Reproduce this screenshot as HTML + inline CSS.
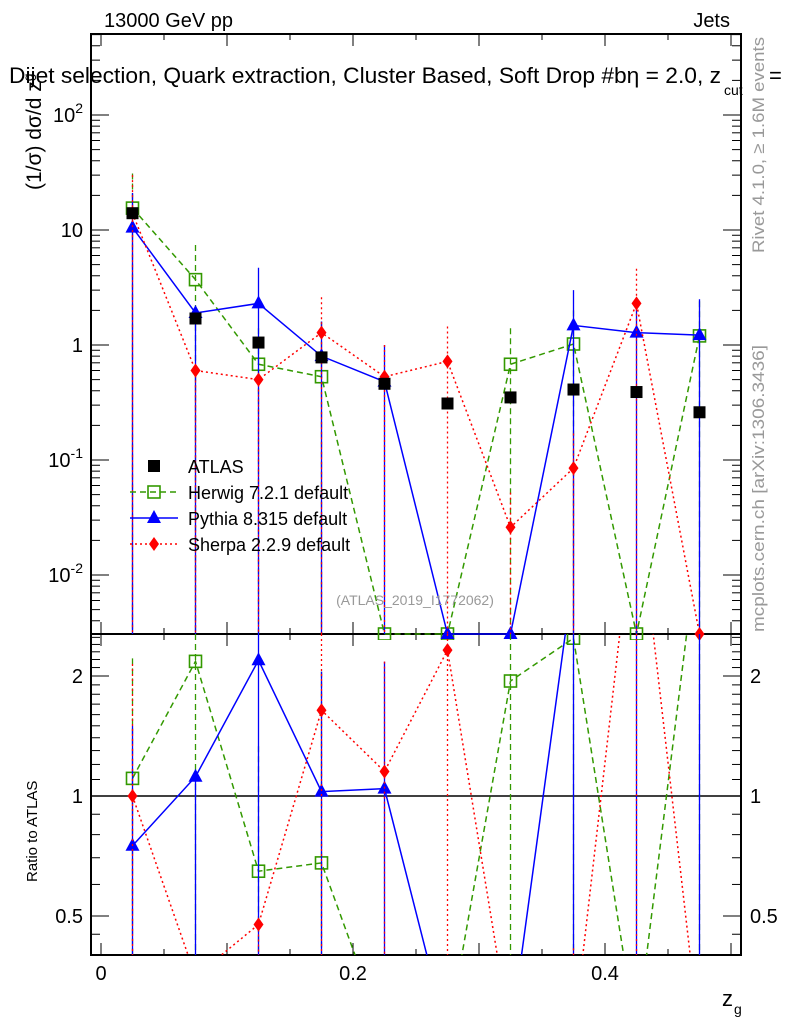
<!DOCTYPE html>
<html><head><meta charset="utf-8"><style>
html,body{margin:0;padding:0;background:#fff;width:786px;height:1024px;overflow:hidden}
svg{display:block;font-family:"Liberation Sans",sans-serif;overflow:hidden}
</style></head><body>
<svg id="zgchart" width="786" height="1024" viewBox="0 0 786 1024"></svg>
<script>
var zgBinCenters=[0.025,0.075,0.125,0.175,0.225,0.275,0.325,0.375,0.425,0.475];
var atlasValues=[14,1.7,1.05,0.78,0.46,0.31,0.35,0.41,0.39,0.26];
var herwigValues=[15.5,3.7,0.68,0.53,0.001,0.001,0.68,1.02,0.001,1.2];
var pythiaValues=[10.5,1.9,2.3,0.8,0.48,0.001,0.001,1.48,1.28,1.22];
var sherpaValues=[14,0.6,0.5,1.28,0.53,0.72,0.026,0.085,2.3,0.001];
var herwigErrUp=[31,7.4,1.4,1.6,0.001,0.001,1.4,2.0,0.001,2.4];
var pythiaErrUp=[21,1.9,4.7,1.6,1.0,0.001,0.001,3.0,2.5,2.5];
var sherpaErrUp=[30,0.6,0.5,2.6,1.0,1.45,0.052,0.17,4.6,0.001];
var zgXTicks=[0,0.2,0.4];
var zgMainTicks=[0.01,0.1,1,10,100];
var zgMainTickLabels=["10^-2","10^-1","1","10","10^2"];
var zgRatioTicks=[0.5,1,2];

(function(){
var S=document.getElementById('zgchart');
var NS=S.namespaceURI;
function el(tag,a,p){var e=document.createElementNS(NS,tag);for(var k in a){if(a.hasOwnProperty(k))e.setAttribute(k,String(a[k]));}(p||S).appendChild(e);return e;}
try{
var L=91,R=741,T=34,MB=634,RB=955;
function lg10(v){return Math.log(v)/Math.LN10;}
function lg2(v){return Math.log(v)/Math.LN2;}
function X(v){return 101+v*1260;}
function YM(v){var y=230-(lg10(Math.max(v,1e-9))-1)*115;return Math.min(Math.max(y,T),MB);}
function YR(v){var y=796-lg2(Math.max(v,1e-9))*120;return Math.min(Math.max(y,MB),RB);}
function txt(s,a,name){var e=el('text',a);e.textContent=s;return e;}

var f=el('rect',{x:L,y:T,width:R-L,height:MB-T,fill:'none',stroke:'#000','stroke-width':2});


f=el('rect',{x:L,y:MB,width:R-L,height:RB-MB,fill:'none',stroke:'#000','stroke-width':2});



var i,j;
for(i=0;i<=10;i++){var v=i*0.05;var x=X(v);if(x<L||x>R)continue;var len=(i%2==0)?12:6;
 el('line',{x1:x,y1:T,x2:x,y2:T+len,stroke:'#000'});el('line',{x1:x,y1:MB,x2:x,y2:MB-len,stroke:'#000'});
 el('line',{x1:x,y1:MB,x2:x,y2:MB+len,stroke:'#000'});el('line',{x1:x,y1:RB,x2:x,y2:RB-len,stroke:'#000'});}
for(i=0;i<zgXTicks.length;i++){
 txt(String(zgXTicks[i]),{x:X(zgXTicks[i]),y:980,'font-size':20,'text-anchor':'middle'},'x-tick-label');}
txt('z',{x:722,y:1006,'font-size':22},'x-axis-title');
txt('g',{x:734,y:1014,'font-size':14},'x-axis-title-subscript');

for(var d=-3;d<=2;d++){for(var m=1;m<10;m++){var vv=m*Math.pow(10,d);var y=YM(vv);if(y<=T||y>=MB)continue;var ln=m==1?18:9;
 el('line',{x1:L,y1:y,x2:L+ln,y2:y,stroke:'#000'});el('line',{x1:R,y1:y,x2:R-ln,y2:y,stroke:'#000'});}}
for(i=0;i<zgMainTicks.length;i++){var yy=YM(zgMainTicks[i])+7;var lab=zgMainTickLabels[i];
 var g=txt('',{x:83,y:yy,'font-size':20,'text-anchor':'end'},'y-tick-label');
 if(lab.indexOf('^')>=0){var parts=lab.split('^');el('tspan',{},g).textContent=parts[0];el('tspan',{dy:-9,'font-size':14},g).textContent=parts[1];}
 else g.textContent=lab;}
var minor=[0.45,0.5,0.6,0.7,0.8,0.9,1,1.1,1.2,1.3,1.4,1.5,1.6,1.7,1.8,1.9,2,2.1,2.2,2.3,2.4,2.5];
for(i=0;i<minor.length;i++){var y2=YR(minor[i]);if(y2<=MB||y2>=RB)continue;var ln2=(minor[i]==0.5||minor[i]==1||minor[i]==2)?18:9;
 el('line',{x1:L,y1:y2,x2:L+ln2,y2:y2,stroke:'#000'});el('line',{x1:R,y1:y2,x2:R-ln2,y2:y2,stroke:'#000'});}
for(i=0;i<zgRatioTicks.length;i++){var y3=YR(zgRatioTicks[i])+7;
 txt(String(zgRatioTicks[i]),{x:83,y:y3,'font-size':20,'text-anchor':'end'},'ratio-tick-label');
 txt(String(zgRatioTicks[i]),{x:750,y:y3,'font-size':20},'ratio-tick-label-right');}
el('line',{x1:L,y1:YR(1),x2:R,y2:YR(1),stroke:'#000','stroke-width':1.5});

var defs=el('defs',{});
var c1=el('clipPath',{id:'zgcm'},defs);el('rect',{x:L,y:T-6,width:R-L,height:MB-T+12},c1);
var c2=el('clipPath',{id:'zgcr'},defs);el('rect',{x:L,y:MB,width:R-L,height:RB-MB},c2);
var gm=el('g',{'clip-path':'url(#zgcm)'});


var gr=el('g',{'clip-path':'url(#zgcr)'});



function marker(g,kind,x,y,col){
 if(kind=='sq')return el('rect',{x:x-6,y:y-6,width:12,height:12,fill:'none',stroke:col,'stroke-width':1.6},g);
 if(kind=='tri')return el('polygon',{points:x+','+(y-8)+' '+(x-7)+','+(y+5)+' '+(x+7)+','+(y+5),fill:col},g);
 if(kind=='dia')return el('polygon',{points:x+','+(y-7)+' '+(x-5)+','+y+' '+x+','+(y+7)+' '+(x+5)+','+y,fill:col},g);
 return el('rect',{x:x-6,y:y-6,width:12,height:12,fill:col},g);}
var series=[
 {name:'herwig',vals:herwigValues,up:herwigErrUp,col:'#339900',dash:'6,4',mk:'sq'},
 {name:'pythia',vals:pythiaValues,up:pythiaErrUp,col:'#0000ff',dash:'none',mk:'tri'},
 {name:'sherpa',vals:sherpaValues,up:sherpaErrUp,col:'#ff0000',dash:'2,3',mk:'dia'}];
for(j=0;j<series.length;j++){var s=series[j];
 var sg=el('g',{},gm);
 
 
 var gg=el('g',{},gr);
 
 
 var pts=[],rpts=[];
 for(i=0;i<zgBinCenters.length;i++){var xx=X(zgBinCenters[i]);
  var e=el('line',{x1:xx,y1:YM(s.up[i]),x2:xx,y2:MB,stroke:s.col,'stroke-width':1.3,'stroke-dasharray':s.dash},sg);
  
  
  var r=el('line',{x1:xx,y1:YR(s.up[i]/atlasValues[i]),x2:xx,y2:RB,stroke:s.col,'stroke-width':1.3,'stroke-dasharray':s.dash},gg);
  
  
  pts.push(xx+','+YM(s.vals[i]));
  rpts.push(xx+','+(796-lg2(Math.max(s.vals[i]/atlasValues[i],0.25))*120));}
 var pl=el('polyline',{points:pts.join(' '),fill:'none',stroke:s.col,'stroke-width':1.5,'stroke-dasharray':s.dash},sg);
 
 
 pl=el('polyline',{points:rpts.join(' '),fill:'none',stroke:s.col,'stroke-width':1.5,'stroke-dasharray':s.dash},gg);
 
 
 for(i=0;i<zgBinCenters.length;i++){var mk=marker(sg,s.mk,X(zgBinCenters[i]),YM(s.vals[i]),s.col);
  
  
  var ry=796-lg2(s.vals[i]/atlasValues[i])*120;
  if(ry>MB&&ry<RB){var m2=marker(gg,s.mk,X(zgBinCenters[i]),ry,s.col);
   
   }}
}
var ga=el('g',{},gm);


for(i=0;i<zgBinCenters.length;i++){var am=marker(ga,'atlas',X(zgBinCenters[i]),YM(atlasValues[i]),'#000');
 
 }

var leg=[['ATLAS','#000','none','atlas'],['Herwig 7.2.1 default','#339900','6,4','sq'],['Pythia 8.315 default','#0000ff','none','tri'],['Sherpa 2.2.9 default','#ff0000','2,3','dia']];
for(i=0;i<leg.length;i++){var l=leg[i];var ly=466+i*26;var lgp=el('g',{});
 
 
 if(i>0)el('line',{x1:130,y1:ly,x2:178,y2:ly,stroke:l[1],'stroke-width':1.5,'stroke-dasharray':l[2]},lgp);
 marker(lgp,l[3],154,ly,l[1]);
 el('text',{x:188,y:ly+7,'font-size':18},lgp).textContent=l[0];}

txt('13000 GeV pp',{x:104,y:27,'font-size':20},'energy-label');
txt('Jets',{x:730,y:27,'font-size':20,'text-anchor':'end'},'process-label');
txt('Dijet selection, Quark extraction, Cluster Based, Soft Drop #b\u03b7 = 2.0, z',{x:9,y:83,'font-size':22,textLength:712,lengthAdjust:'spacingAndGlyphs'},'plot-title');
txt('cut',{x:724,y:95,'font-size':14},'title-subscript');
txt('=',{x:769,y:83,'font-size':22},'title-eq');
txt('(ATLAS_2019_I1772062)',{x:415,y:605,'font-size':14,fill:'#999','text-anchor':'middle'},'analysis-id');
var yl=txt('(1/\u03c3) d\u03c3/d z',{x:0,y:0,'font-size':21,transform:'translate(41,190) rotate(-90)'},'y-axis-title');
el('tspan',{dy:-8,'font-size':14},yl).textContent='g';
txt('Ratio to ATLAS',{x:0,y:0,'font-size':15,transform:'translate(37,882) rotate(-90)'},'ratio-axis-title');
txt('Rivet 4.1.0, \u2265 1.6M events',{x:0,y:0,'font-size':17,fill:'#999',textLength:216,lengthAdjust:'spacingAndGlyphs',transform:'translate(764,253) rotate(-90)'},'rivet-label');
txt('mcplots.cern.ch [arXiv:1306.3436]',{x:0,y:0,'font-size':17,fill:'#999',textLength:287,lengthAdjust:'spacingAndGlyphs',transform:'translate(764,632) rotate(-90)'},'mcplots-label');
}catch(err){var et=el('text',{x:20,y:500,'font-size':14,fill:'#f00'});et.textContent='ERR: '+err;}
})();
</script>
</body></html>
